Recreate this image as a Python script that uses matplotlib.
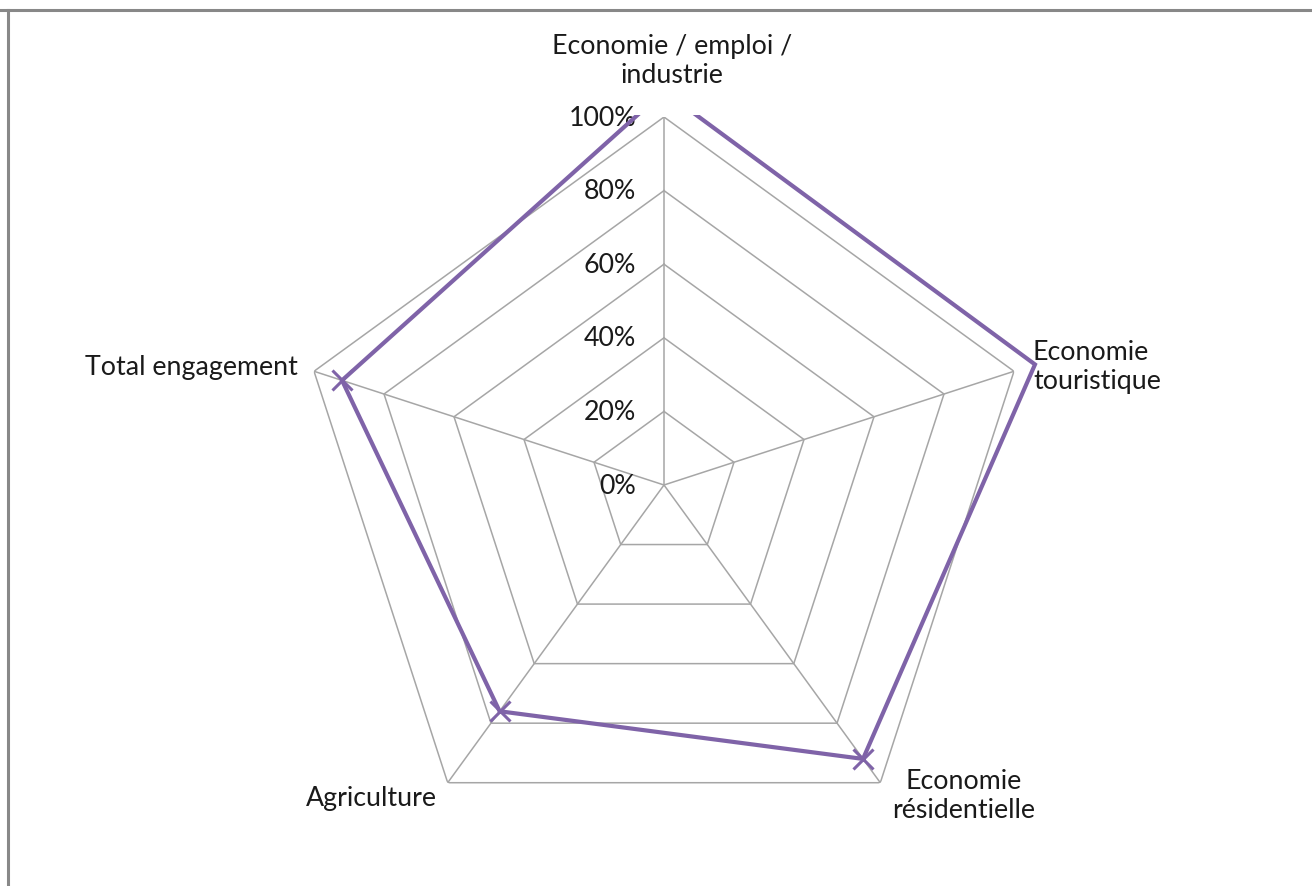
import numpy as np
import matplotlib
matplotlib.use("Agg")
import matplotlib.pyplot as plt
from matplotlib.patches import Rectangle
from matplotlib.lines import Line2D

categories = ["Economie / emploi /\nindustrie", "Economie\ntouristique",
              "Economie\nrésidentielle", "Agriculture", "Total engagement"]
values = [1.07, 1.06, 0.92, 0.76, 0.92]
ticks = [0.0, 0.2, 0.4, 0.6, 0.8, 1.0]
tick_labels = ["0%", "20%", "40%", "60%", "80%", "100%"]

W, H = 1312, 886
fig = plt.figure(figsize=(W / 100, H / 100), dpi=100)
plt.rcParams['font.family'] = ['Lato', 'DejaVu Sans']

cx, cy, R = 664, 485, 368
ax = fig.add_axes([(cx - R) / W, (H - cy - R) / H, 2 * R / W, 2 * R / H],
                  projection='polar')
ax.set_theta_zero_location('N')
ax.set_theta_direction(-1)
ax.set_ylim(0, 1)
ax.grid(False)
ax.spines['polar'].set_visible(False)
ax.set_xticks([])
ax.set_yticks([])
ax.patch.set_visible(False)

n = len(categories)
angles = np.arange(n) * 2 * np.pi / n
closed = np.append(angles, angles[0])

gc = '#a6a6a6'
for t in ticks[1:]:
    ax.plot(closed, [t] * (n + 1), color=gc, lw=1.1, zorder=1)
for a in angles:
    ax.plot([a, a], [0, 1], color=gc, lw=1.1, zorder=1)

tc = '#1a1a1a'
fs = 19.3
for t, lab in zip(ticks, tick_labels):
    ax.annotate(lab, xy=(0, t), xytext=(-28, -1), textcoords='offset pixels',
                ha='right', va='center', fontsize=fs, color=tc)

# series
col = '#7f63a8'
vals = np.append(values, values[0])
ln, = ax.plot(closed, vals, color=col, lw=3, zorder=3, solid_joinstyle='miter')
clip = Rectangle((0, 0), 1, 1 - 115 / H, transform=fig.transFigure)
ln.set_clip_path(clip)
inside = [(a, v) for a, v in zip(angles, values) if v <= 1]
ax.plot([p[0] for p in inside], [p[1] for p in inside], linestyle='none',
        marker='x', markersize=14, mew=2.2, color=col, zorder=4, clip_on=False)

# category labels
offsets = [((8, 56), 'center', 'center'),
           ((19, 4), 'left', 'center'),
           ((83, -13), 'center', 'center'),
           ((-11, -16), 'right', 'center'),
           ((-16, 4), 'right', 'center')]
for a, lab, (off, ha, va) in zip(angles, categories, offsets):
    ax.annotate(lab, xy=(a, 1), xytext=off, textcoords='offset pixels',
                ha=ha, va=va, fontsize=fs, color=tc, linespacing=1.2,
                annotation_clip=False)

# outer border (top and left edges visible)
fig.add_artist(Line2D([0, 1], [1 - 9.5 / H, 1 - 9.5 / H], transform=fig.transFigure,
                      color='#888888', lw=2.2))
fig.add_artist(Line2D([7.5 / W, 7.5 / W], [0, 1 - 9.5 / H], transform=fig.transFigure,
                      color='#888888', lw=2.2))

fig.savefig('out.png', dpi=100)
